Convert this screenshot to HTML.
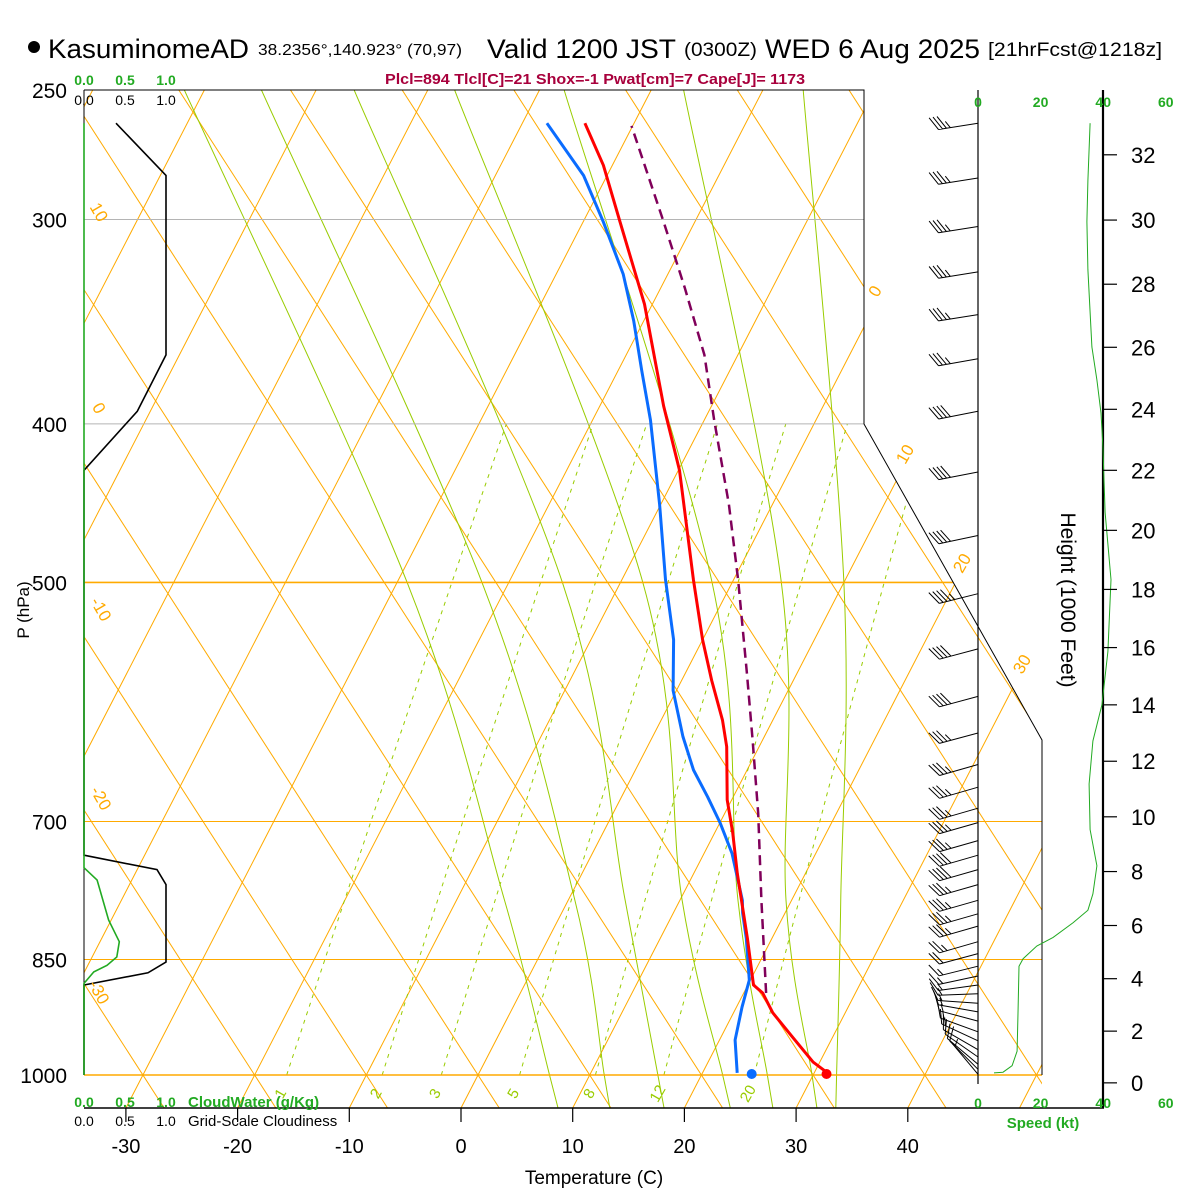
<!DOCTYPE html>
<html><head><meta charset="utf-8"><title>Skew-T Kasuminome</title>
<style>
html,body{margin:0;padding:0;background:#fff;}
svg{display:block;font-family:"Liberation Sans",Arial,sans-serif;}
</style></head>
<body>
<svg id="chart" xmlns="http://www.w3.org/2000/svg" width="1200" height="1200" viewBox="0 0 1200 1200">
<rect width="1200" height="1200" fill="#fff"/>
<defs>
<clipPath id="plotclip"><path d="M84,90 L864,90 L864,424 L1042,740 L1042,1108 L84,1108 Z"/></clipPath>
<clipPath id="plotclip2"><path d="M84,90 L864,90 L864,424 L1042,740 L1042,1075 L84,1075 Z"/></clipPath>
</defs>
<g id="grid" clip-path="url(#plotclip)"></g>
<g id="mixing" clip-path="url(#plotclip2)"></g>
<g id="isobars"></g>
<g id="frame">
<path d="M84,90 L864,90 L864,424 L1042,740 L1042,1075" fill="none" stroke="#000" stroke-width="1"/>
<line x1="84" y1="90" x2="84" y2="1075" stroke="#000" stroke-width="1"/>
<line x1="84" y1="1108" x2="1104" y2="1108" stroke="#000" stroke-width="1.5"/>
<line x1="978" y1="90" x2="978" y2="1084" stroke="#000" stroke-width="1.2"/>
<line x1="1103" y1="90" x2="1103" y2="1108" stroke="#000" stroke-width="2.2"/>
</g>
<g id="cloud"></g>
<g id="profiles"></g>
<g id="barbs"></g>
<g id="speed"></g>
<g id="axes"></g>
<g id="labels">
<g fill="#ffaa00" font-size="17">
<text transform="translate(880,294) rotate(-60)" text-anchor="middle">0</text>
<text transform="translate(910,457) rotate(-60)" text-anchor="middle">10</text>
<text transform="translate(967,566) rotate(-60)" text-anchor="middle">20</text>
<text transform="translate(1027,667) rotate(-60)" text-anchor="middle">30</text>
<text transform="translate(94,215) rotate(60)" text-anchor="middle">10</text>
<text transform="translate(94,411) rotate(60)" text-anchor="middle">0</text>
<text transform="translate(96,612) rotate(60)" text-anchor="middle">-10</text>
<text transform="translate(96,801) rotate(60)" text-anchor="middle">-20</text>
<text transform="translate(94,995) rotate(60)" text-anchor="middle">-30</text>
</g>
</g>
<g id="header">
<circle cx="34" cy="47" r="6" fill="#000"/>
<text x="48" y="58" font-size="27" textLength="201" lengthAdjust="spacingAndGlyphs">KasuminomeAD</text>
<text x="258" y="55" font-size="16" textLength="204" lengthAdjust="spacingAndGlyphs">38.2356°,140.923° (70,97)</text>
<text x="487" y="58" font-size="27" textLength="189" lengthAdjust="spacingAndGlyphs">Valid 1200 JST</text>
<text x="684" y="56" font-size="19" textLength="73" lengthAdjust="spacingAndGlyphs">(0300Z)</text>
<text x="765" y="58" font-size="27" textLength="215" lengthAdjust="spacingAndGlyphs">WED 6 Aug 2025</text>
<text x="988" y="56" font-size="19" textLength="174" lengthAdjust="spacingAndGlyphs">[21hrFcst@1218z]</text>
<text x="385" y="84" font-size="15" font-weight="bold" fill="#a8003c" textLength="420" lengthAdjust="spacingAndGlyphs">Plcl=894 Tlcl[C]=21 Shox=-1 Pwat[cm]=7 Cape[J]= 1173</text>
</g>
</svg>
<script>
// ---------- data ----------
const tempP = [997, 982, 948, 916, 891, 881, 825, 753, 711, 679, 630, 607, 574, 542, 498, 427, 390, 338, 301, 278, 262];
const tempC = [31.2, 29.4, 26.4, 23.5, 21.7, 20.5, 17.8, 13.9, 11.6, 9.6, 7.1, 5.5, 2.7, 0.0, -3.6, -9.9, -14.3, -20.7, -26.7, -30.8, -34.4];
const dewP = [997, 952, 909, 875, 825, 796, 782, 732, 701, 676, 651, 621, 582, 542, 498, 448, 398, 371, 346, 324, 301, 282, 262];
const dewC = [23.1, 21.4, 20.5, 19.9, 17.7, 16.2, 15.6, 12.5, 10.0, 7.7, 5.2, 2.7, -0.3, -2.6, -6.1, -10.1, -14.8, -17.9, -20.9, -24.0, -28.2, -32.1, -37.8];
const parcelP = [891, 782, 692, 624, 568, 498, 448, 398, 363, 330, 301, 263];
const parcelC = [22.0, 17.3, 13.0, 9.1, 5.5, 0.4, -3.9, -9.1, -13.0, -17.9, -22.8, -30.1];
const sfcTemp = 31.2;
const sfcDew = 24.5;
const cloudP = [262, 282, 363, 393, 427, 734, 749, 765, 853, 866, 881, 1000];
const cloudFrac = [0.39, 1.0, 1.0, 0.65, 0.0, 0.0, 0.89, 1.0, 1.0, 0.78, 0.0, 0.0];
const cwP = [262, 747, 760, 804, 829, 847, 857, 865, 879, 1000];
const cwVal = [0, 0, 0.16, 0.30, 0.43, 0.40, 0.28, 0.12, 0, 0];
const barbP = [262, 283, 303, 323, 343, 365, 393, 428, 468, 508, 549, 587, 618, 646, 667, 687, 701, 719, 734, 749, 765, 782, 797, 811, 829, 843, 858, 870, 881, 892, 904, 915, 927, 941, 953, 965, 975, 985, 992, 999];
const barbDir = [261, 261, 261, 261, 261, 260, 259, 259, 258, 256, 255, 255, 255, 254, 254, 254, 254, 254, 254, 254, 254, 254, 254, 254, 254, 255, 256, 258, 262, 268, 274, 280, 285, 290, 295, 300, 305, 310, 315, 320];
const barbSpd = [36, 35, 35, 35, 36, 37, 39, 40, 41, 43, 42, 40, 37, 36, 35, 35, 36, 37, 38, 38, 37, 37, 36, 33, 27, 20, 14, 13, 13, 13, 13, 13, 13, 13, 13, 12, 12, 11, 8, 5];
const spdP = [262, 284, 301, 322, 359, 376, 394, 413, 453, 498, 551, 594, 625, 664, 708, 745, 775, 793, 807, 824, 834, 849, 858, 911, 967, 987, 996, 997];
const spdKt = [35.8, 35.1, 34.8, 35.1, 36.4, 38.0, 39.3, 39.9, 40.6, 42.5, 41.5, 39.6, 36.7, 35.5, 35.8, 38.0, 36.7, 35.1, 30.4, 24.0, 18.8, 14.4, 13.1, 12.8, 12.5, 10.9, 8.0, 5.1];
const presTicks = [250, 300, 400, 500, 700, 850, 1000];
const tempTicks = [-30, -20, -10, 0, 10, 20, 30, 40];
const heightTicks = [0, 2, 4, 6, 8, 10, 12, 14, 16, 18, 20, 22, 24, 26, 28, 30, 32];
const speedTicks = [0, 20, 40, 60];
const mixRatios = [1, 2, 3, 5, 8, 12, 20];
const maP = [250, 500, 782, 1000];
const maT = [[-71.8, -29.1, -5.7, 6.4], [-64.9, -22.4, 0.6, 11.3], [-56.6, -15.2, 5.1, 16.1], [-47.6, -8.0, 10.2, 21.9], [-37.8, -1.8, 15.2, 25.9], [-27.1, 4.4, 19.5, 29.9], [-16.4, 10.0, 24.4, 32.1]];

// ---------- scales ----------
const NS = 'http://www.w3.org/2000/svg';
const Y = p => 1075 - 710.6 * Math.log(1000 / p);
const XY = (T, y) => 461 + 11.17 * T + 0.516 * (1108 - y);
const X = (T, p) => XY(T, Y(p));
const cloudX = f => 84 + 82 * f;
const spdX = s => 978 + 3.13 * s;
const hgtY = kft => { const p = 1013.25 * Math.pow(1 - 6.8756e-6 * kft * 1000, 5.2559); return Y(p) - 1.5; };

function mk(tag, attrs, parent) {
  const e = document.createElementNS(NS, tag);
  for (const k in attrs) e.setAttribute(k, attrs[k]);
  parent.appendChild(e);
  return e;
}
const g = id => document.getElementById(id);

// ---------- grid ----------
const grid = g('grid');
for (let T = -120; T <= 60; T += 10) {
  const l = mk('line', {x1: XY(T, 1108), y1: 1108, x2: XY(T, 90), y2: 90, stroke: '#ffaa00', 'stroke-width': 1}, grid);
  
  
}
for (let k = -6; k <= 16; k++) {
  const xb = 478 + 111.7 * k;
  const l = mk('line', {x1: xb + 0.644 * 33, y1: 1108, x2: xb - 0.644 * 985, y2: 90, stroke: '#ffaa00', 'stroke-width': 1}, grid);
  
  
}
// moist adiabats (catmull-rom through control temps)
maT.forEach(row => {
  const pts = row.map((t, i) => [X(t, maP[i]), Y(maP[i])]);
  const n = pts.length;
  const ext = [pts[n - 1][0] + (pts[n - 1][0] - pts[n - 2][0]) * (33 / (pts[n - 1][1] - pts[n - 2][1])), 1108];
  const P = [pts[0]].concat(pts, [ext, ext]);
  let d = 'M' + pts[0][0].toFixed(1) + ',' + pts[0][1].toFixed(1);
  for (let i = 1; i < P.length - 2; i++) {
    const p0 = P[i - 1], p1 = P[i], p2 = P[i + 1], p3 = P[i + 2];
    const c1 = [p1[0] + (p2[0] - p0[0]) / 6, p1[1] + (p2[1] - p0[1]) / 6];
    const c2 = [p2[0] - (p3[0] - p1[0]) / 6, p2[1] - (p3[1] - p1[1]) / 6];
    d += ' C' + c1.join(',') + ' ' + c2.join(',') + ' ' + p2.join(',');
  }
  const e = mk('path', {d: d, fill: 'none', stroke: '#99cc00', 'stroke-width': 1}, grid);
  
  
});
// mixing ratio
const mix = g('mixing');
mixRatios.forEach(w => {
  let d = '';
  for (let p = 1000; p >= 400; p -= 10) {
    const e = w * p / (622 + w);
    const L = Math.log(e / 6.112);
    const T = 243.5 * L / (17.67 - L);
    d += (d ? ' L' : 'M') + X(T, p).toFixed(1) + ',' + Y(p).toFixed(1);
  }
  const pl = mk('path', {d: d, fill: 'none', stroke: '#99cc00', 'stroke-width': 1, 'stroke-dasharray': '4,5'}, mix);
  
  
  const e0 = w * 1000 / (622 + w), L0 = Math.log(e0 / 6.112), T0 = 243.5 * L0 / (17.67 - L0);
  const t = mk('text', {transform: 'translate(' + (X(T0, 1000) - 2).toFixed(1) + ',1096) rotate(-60)', 'font-size': 15, fill: '#99cc00', 'text-anchor': 'middle'}, g('labels'));
  t.textContent = w;
  
  
});

// ---------- isobars ----------
const iso = g('isobars');
presTicks.forEach(p => {
  const y = Y(p);
  let xe = 864;
  if (y > 424) xe = Math.min(1042, 864 + 178 * (y - 424) / 316);
  if (p !== 250) {
    const thick = (p === 500 || p === 1000);
    const col = (p === 300 || p === 400) ? '#b4b4b4' : '#ffaa00';
    const l = mk('line', {x1: 84, y1: y, x2: xe, y2: y, stroke: col, 'stroke-width': thick ? 1.6 : 1}, iso);
    
    
  }
  const t = mk('text', {x: 67, y: y + 8, 'font-size': 21, 'text-anchor': 'end'}, g('axes'));
  t.textContent = p;
  
  
});

// ---------- cloud panel ----------
const cl = g('cloud');
{
  let d = cloudP.map((p, i) => (i ? 'L' : 'M') + cloudX(cloudFrac[i]).toFixed(1) + ',' + Y(p).toFixed(1)).join(' ');
  const e = mk('path', {d: d, fill: 'none', stroke: '#000', 'stroke-width': 1.6}, cl);
  
  
  let d2 = cwP.map((p, i) => (i ? 'L' : 'M') + cloudX(cwVal[i]).toFixed(1) + ',' + Y(p).toFixed(1)).join(' ');
  const e2 = mk('path', {d: d2, fill: 'none', stroke: '#22aa22', 'stroke-width': 1.6}, cl);
  
  
}

// ---------- profiles ----------
const pr = g('profiles');
function line(P, V, attrs, name) {
  const d = P.map((p, i) => (i ? 'L' : 'M') + X(V[i], p).toFixed(1) + ',' + Y(p).toFixed(1)).join(' ');
  const e = mk('path', Object.assign({d: d, fill: 'none', 'stroke-linejoin': 'round'}, attrs), pr);
  
  
}
line(parcelP, parcelC, {stroke: '#80005a', 'stroke-width': 2.5, 'stroke-dasharray': '10,6'}, 'parcel-path');
line(dewP, dewC, {stroke: '#0a6cff', 'stroke-width': 3}, 'dewpoint-line');
line(tempP, tempC, {stroke: '#ff0000', 'stroke-width': 3}, 'temperature-line');
{
  const c1 = mk('circle', {cx: X(sfcTemp, 1000), cy: Y(1000) - 1, r: 5, fill: '#ff0000'}, pr);
  
  
  const c2 = mk('circle', {cx: X(sfcDew, 1000), cy: Y(1000) - 1, r: 5, fill: '#0a6cff'}, pr);
  
  
}

// ---------- wind barbs ----------
const bg = g('barbs');
barbP.forEach((p, i) => {
  const ax = 978, ay = Y(p);
  const a = barbDir[i] * Math.PI / 180;
  const ux = Math.sin(a), uy = -Math.cos(a);
  const L = 40;
  const tx = ax + ux * L, ty = ay + uy * L;
  let d = 'M' + ax + ',' + ay.toFixed(1) + ' L' + tx.toFixed(1) + ',' + ty.toFixed(1);
  const r = 60 * Math.PI / 180;
  const fx = ux * Math.cos(r) - uy * Math.sin(r), fy = ux * Math.sin(r) + uy * Math.cos(r);
  let s = Math.round(barbSpd[i] / 5) * 5;
  let pos = 0;
  while (s >= 10) {
    const bx = tx - ux * pos, by = ty - uy * pos;
    d += ' M' + bx.toFixed(1) + ',' + by.toFixed(1) + ' l' + (fx * 15).toFixed(1) + ',' + (fy * 15).toFixed(1);
    s -= 10; pos += 4;
  }
  if (s >= 5) {
    if (pos === 0) pos = 4;
    const bx = tx - ux * pos, by = ty - uy * pos;
    d += ' M' + bx.toFixed(1) + ',' + by.toFixed(1) + ' l' + (fx * 8).toFixed(1) + ',' + (fy * 8).toFixed(1);
  }
  const e = mk('path', {d: d, fill: 'none', stroke: '#000', 'stroke-width': 1}, bg);
  
  
});

// ---------- speed profile ----------
{
  const d = spdP.map((p, i) => (i ? 'L' : 'M') + spdX(spdKt[i]).toFixed(1) + ',' + Y(p).toFixed(1)).join(' ');
  const e = mk('path', {d: d, fill: 'none', stroke: '#22aa22', 'stroke-width': 1}, g('speed'));
  
  
}

// ---------- axes ----------
const ax = g('axes');
tempTicks.forEach(T => {
  const x = XY(T, 1108);
  const l = mk('line', {x1: x, y1: 1108, x2: x, y2: 1122, stroke: '#000', 'stroke-width': 1.2}, ax);
  
  
  const t = mk('text', {x: x, y: 1153, 'font-size': 20, 'text-anchor': 'middle'}, ax);
  t.textContent = T;
  
  
});
heightTicks.forEach(h => {
  const y = hgtY(h);
  const l = mk('line', {x1: 1103, y1: y, x2: 1117, y2: y, stroke: '#000', 'stroke-width': 1.2}, ax);
  
  
  const t = mk('text', {x: 1131, y: y + 8, 'font-size': 22}, ax);
  t.textContent = h;
  
  
});
speedTicks.forEach(s => {
  [107, 1108].forEach(yy => {
    const t = mk('text', {x: spdX(s), y: yy, 'font-size': 14, 'font-weight': 'bold', fill: '#22aa22', 'text-anchor': 'middle'}, ax);
    t.textContent = s;
    
    
  });
});
function txt(s, attrs, name) {
  const t = mk('text', attrs, ax);
  t.textContent = s;
  
  
}
txt('Temperature (C)', {x: 594, y: 1184, 'font-size': 19, 'text-anchor': 'middle'}, 'x-axis-title');
txt('P (hPa)', {transform: 'translate(29,610) rotate(-90)', 'font-size': 17, 'text-anchor': 'middle'}, 'y-axis-title');
txt('Height (1000 Feet)', {transform: 'translate(1061,600) rotate(90)', 'font-size': 21, 'text-anchor': 'middle'}, 'height-axis-title');
txt('Speed (kt)', {x: 1043, y: 1128, 'font-size': 15, 'font-weight': 'bold', fill: '#22aa22', 'text-anchor': 'middle'}, 'speed-axis-title');
[0, 0.5, 1].forEach(f => {
  txt(f.toFixed(1), {x: cloudX(f), y: 85, 'font-size': 14, 'font-weight': 'bold', fill: '#22aa22', 'text-anchor': 'middle'}, 'cloudwater-top-label');
  txt(f.toFixed(1), {x: cloudX(f), y: 105, 'font-size': 14, fill: '#000', 'text-anchor': 'middle'}, 'cloudiness-top-label');
  txt(f.toFixed(1), {x: cloudX(f), y: 1107, 'font-size': 14, 'font-weight': 'bold', fill: '#22aa22', 'text-anchor': 'middle'}, 'cloudwater-bottom-label');
  txt(f.toFixed(1), {x: cloudX(f), y: 1126, 'font-size': 14, fill: '#000', 'text-anchor': 'middle'}, 'cloudiness-bottom-label');
});
txt('CloudWater (g/Kg)', {x: 188, y: 1107, 'font-size': 15, 'font-weight': 'bold', fill: '#22aa22'}, 'cloudwater-title');
txt('Grid-Scale Cloudiness', {x: 188, y: 1126, 'font-size': 15, fill: '#000'}, 'cloudiness-title');
</script>
</body></html>
